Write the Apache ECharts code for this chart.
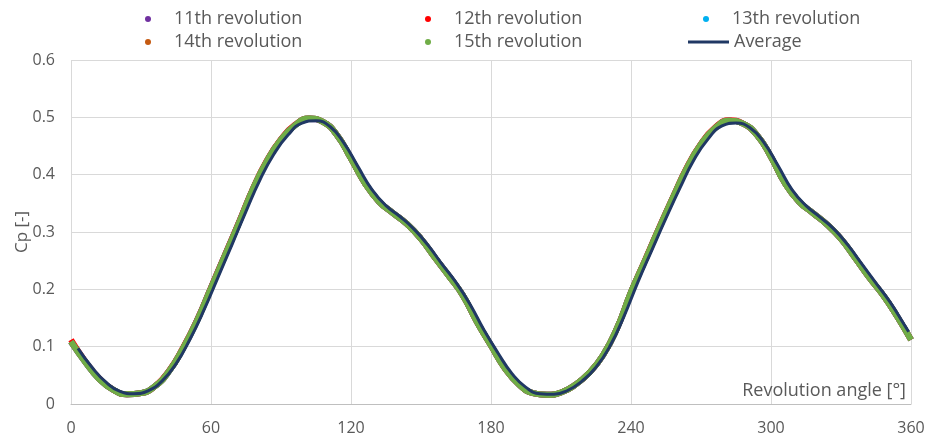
<!DOCTYPE html>
<html>
<head>
<meta charset="utf-8">
<script src="https://cdn.jsdelivr.net/npm/echarts@6/dist/echarts.min.js"></script>
<style>
html,body{margin:0;padding:0;background:#fff;}
#chart{width:928px;height:438px;}
</style>
</head>
<body>
<div id="chart"></div>
<script>
// Revolution angle samples (degrees) for the revolution series
const angles = [0,6,12,18,24,30,36,42,48,54,60,66,72,78,84,90,96,102,108,114,120,126,132,138,144,150,156,162,168,174,180,186,192,198,204,210,216,222,228,234,240,246,252,258,264,270,276,282,288,294,300,306,312,318,324,330,336,342,348,354,360];

const rev11 = [0.108,0.074,0.044,0.025,0.017,0.019,0.031,0.057,0.097,0.146,0.203,0.260,0.317,0.375,0.424,0.461,0.486,0.497,0.492,0.469,0.428,0.385,0.353,0.333,0.314,0.288,0.255,0.223,0.189,0.143,0.102,0.062,0.034,0.019,0.016,0.020,0.033,0.054,0.085,0.132,0.195,0.250,0.306,0.360,0.412,0.453,0.481,0.494,0.489,0.469,0.431,0.385,0.353,0.333,0.313,0.288,0.255,0.221,0.190,0.153,0.112];
const rev12 = [0.112,0.075,0.045,0.025,0.017,0.019,0.031,0.058,0.098,0.146,0.203,0.260,0.317,0.376,0.425,0.462,0.487,0.498,0.492,0.469,0.428,0.385,0.353,0.333,0.314,0.288,0.255,0.223,0.189,0.143,0.102,0.062,0.034,0.019,0.016,0.020,0.033,0.054,0.085,0.132,0.195,0.251,0.307,0.361,0.413,0.454,0.482,0.495,0.489,0.469,0.431,0.385,0.353,0.333,0.313,0.288,0.255,0.221,0.190,0.153,0.112];
const rev13 = [0.109,0.074,0.044,0.025,0.017,0.019,0.031,0.057,0.097,0.145,0.202,0.259,0.316,0.375,0.424,0.461,0.486,0.498,0.492,0.469,0.428,0.385,0.353,0.333,0.314,0.288,0.255,0.223,0.189,0.143,0.102,0.062,0.034,0.019,0.016,0.020,0.033,0.054,0.085,0.132,0.195,0.250,0.306,0.360,0.412,0.453,0.481,0.494,0.489,0.469,0.431,0.385,0.353,0.333,0.313,0.288,0.255,0.221,0.190,0.153,0.112];
const rev14 = [0.109,0.074,0.044,0.025,0.017,0.019,0.031,0.057,0.097,0.145,0.202,0.259,0.316,0.375,0.424,0.461,0.486,0.498,0.492,0.469,0.428,0.385,0.353,0.333,0.314,0.288,0.255,0.223,0.189,0.143,0.102,0.062,0.034,0.019,0.016,0.020,0.033,0.054,0.085,0.132,0.195,0.250,0.306,0.360,0.412,0.453,0.481,0.494,0.489,0.469,0.431,0.385,0.353,0.333,0.313,0.288,0.255,0.221,0.190,0.153,0.112];
const rev15 = [0.109,0.074,0.044,0.025,0.017,0.019,0.031,0.057,0.097,0.145,0.202,0.259,0.316,0.375,0.424,0.461,0.486,0.498,0.492,0.469,0.428,0.385,0.353,0.333,0.314,0.288,0.255,0.223,0.189,0.143,0.102,0.062,0.034,0.019,0.016,0.020,0.033,0.054,0.085,0.132,0.195,0.250,0.306,0.360,0.412,0.453,0.481,0.494,0.489,0.469,0.431,0.385,0.353,0.333,0.313,0.288,0.255,0.221,0.190,0.153,0.112];

// Average curve
const avgAngles = [3,9,15,21,27,33,39,45,51,57,63,69,75,81,87,93,99,105,111,117,123,129,135,141,147,153,159,165,171,177,183,189,195,201,207,213,219,225,231,237,243,249,255,261,267,273,279,285,291,297,303,309,315,321,327,333,339,345,351,357,359];
const average = [0.097,0.064,0.038,0.022,0.018,0.023,0.040,0.070,0.113,0.164,0.221,0.278,0.336,0.391,0.436,0.469,0.490,0.494,0.484,0.455,0.414,0.374,0.346,0.327,0.305,0.277,0.244,0.212,0.174,0.129,0.089,0.053,0.029,0.018,0.017,0.024,0.040,0.064,0.101,0.153,0.213,0.269,0.324,0.377,0.426,0.462,0.485,0.490,0.482,0.456,0.416,0.374,0.346,0.326,0.305,0.277,0.244,0.211,0.178,0.139,0.126];

const seriesNames = ['11th revolution','12th revolution','13th revolution','14th revolution','15th revolution','Average'];
const xTicks = [0,60,120,180,240,300,360];
const yTicks = [0,0.1,0.2,0.3,0.4,0.5,0.6];

const FONT = '"Open Sans", "Noto Sans", sans-serif';
const TXT = '#595959';
const colors = ['#7030A0','#FF0000','#00B0F0','#C55A11','#70AD47','#203864'];
const revs = [rev11, rev12, rev13, rev14, rev15];

const pair = (xs, ys) => xs.map((x, i) => [x, ys[i]]);

const series = revs.map((r, i) => ({
  name: seriesNames[i],
  type: 'line',
  data: pair(angles, r),
  smooth: 0.5,
  symbol: 'circle',
  showSymbol: false,
  lineStyle: { width: 6, color: colors[i] },
  itemStyle: { color: colors[i] }
}));
series.push({
  name: seriesNames[5],
  type: 'line',
  data: pair(avgAngles, average),
  smooth: 0.5,
  symbol: 'none',
  showSymbol: false,
  lineStyle: { width: 3, color: colors[5] },
  itemStyle: { color: colors[5] }
});

const legendPos = [
  { left: 145, top: 10 }, { left: 425, top: 10 }, { left: 703, top: 10 },
  { left: 145, top: 33 }, { left: 425, top: 33 }, { left: 688, top: 33 }
];
const legends = seriesNames.map((n, i) => ({
  data: [n],
  left: legendPos[i].left,
  top: legendPos[i].top,
  padding: 0,
  itemGap: 0,
  icon: i === 5 ? 'rect' : 'circle',
  itemWidth: i === 5 ? 41 : 42,
  itemHeight: i === 5 ? 3 : 6,
  textStyle: { color: TXT, fontSize: 18, fontFamily: FONT },
  selectedMode: false
}));

const chart = echarts.init(document.getElementById('chart'), null, { renderer: 'canvas' });
chart.setOption({
  animation: false,
  backgroundColor: '#fff',
  legend: legends,
  grid: { left: 71, right: 17, top: 60, bottom: 34, containLabel: false, outerBoundsMode: 'none' },
  xAxis: {
    type: 'value',
    min: xTicks[0], max: xTicks[xTicks.length - 1], interval: 60,
    name: 'Revolution angle [°]',
    nameLocation: 'end',
    nameGap: -5,
    nameMoveOverlap: false,
    nameTextStyle: { color: TXT, fontSize: 18, fontFamily: FONT, align: 'right', verticalAlign: 'bottom', padding: [0, 0, 4, 0] },
    axisLine: { show: true, lineStyle: { color: '#BFBFBF', width: 1 } },
    axisTick: { show: false },
    axisLabel: { color: TXT, fontSize: 16, fontFamily: FONT, margin: 16 },
    splitLine: { show: true, lineStyle: { color: '#D9D9D9', width: 1 } }
  },
  yAxis: {
    type: 'value',
    min: yTicks[0], max: yTicks[yTicks.length - 1], interval: 0.1,
    name: 'Cp [-]',
    nameLocation: 'middle',
    nameGap: 40,
    nameMoveOverlap: false,
    nameTextStyle: { color: TXT, fontSize: 17, fontFamily: FONT },
    axisLine: { show: false },
    axisTick: { show: false },
    axisLabel: { color: TXT, fontSize: 16, fontFamily: FONT, margin: 16 },
    splitLine: { show: true, lineStyle: { color: '#D9D9D9', width: 1 } }
  },
  series: series
});
</script>
</body>
</html>
